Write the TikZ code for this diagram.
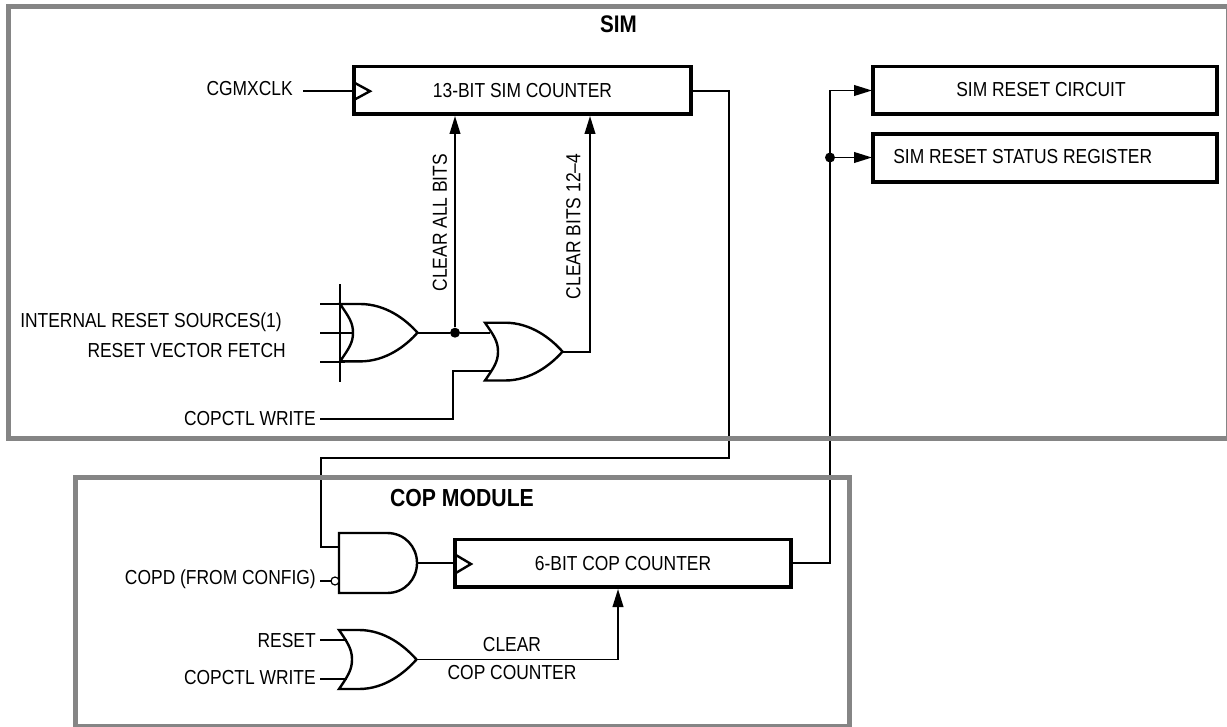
\documentclass[tikz,border=0pt]{standalone}
\usepackage{fontspec}
\setmainfont[FakeStretch=0.86]{Liberation Sans}
\usetikzlibrary{arrows.meta}
\definecolor{framegray}{HTML}{858585}
\tikzset{
  x=0.75pt,y=-0.75pt,
  frame/.style={draw=framegray,line width=3.6pt,outer sep=0pt,inner sep=0pt,anchor=north west},
  wire/.style={draw=black,line width=1.4pt},
  gate/.style={draw=black,line width=1.8pt,line join=miter},
  regbox/.style={draw=black,line width=2.4pt,outer sep=0pt,inner sep=0pt,anchor=north west},
  arr/.style={wire,-{Triangle[length=13.5pt,width=8pt]}},
  lbl/.style={font=\fontsize{15.2pt}{17pt}\selectfont,inner sep=0pt},
  lblr/.style={lbl,anchor=east},
  title/.style={font=\fontsize{18.5pt}{20pt}\selectfont\bfseries,inner sep=0pt},
  dot/.style={circle,fill=black,inner sep=0pt,minimum size=7.5pt},
}
\newcommand{\orgate}[4]{% name, left x, top y, bottom y
  \pgfmathsetmacro{\midy}{(#3+#4)/2}
  \coordinate (#1out) at (#2+77.5,\midy);
  \draw[gate,fill=white] (#2,#3) .. controls (#2+9,#3+13) and (#2+13,\midy-10) .. (#2+13,\midy)
    .. controls (#2+13,\midy+10) and (#2+9,#4-13) .. (#2,#4)
    -- (#2+20,#4) .. controls (#2+46,#4) and (#2+66,\midy+13) .. (#1out)
    .. controls (#2+66,\midy-13) and (#2+46,#3) .. (#2+20,#3) -- cycle;
}
\begin{document}
\begin{tikzpicture}
\useasboundingbox (0,0) rectangle (1227,727);
\fill[white] (0,0) rectangle (1227,727);
\node[title,font=\fontsize{18pt}{20pt}\selectfont\bfseries] (simt) at (618.5,24) {SIM};
\node[title] (copt) at (462,498) {COP MODULE};
% boxes
\node[regbox,minimum width=337*0.75pt,minimum height=47.5*0.75pt] (cnt) at (354,66.5) {};
\node[lbl] (cntt) at (522.5,91) {13-BIT SIM COUNTER};
\node[regbox,minimum width=336*0.75pt,minimum height=47.5*0.75pt] (cop6) at (455,539.5) {};
\node[lbl] (cop6t) at (623,564) {6-BIT COP COUNTER};
\node[regbox,minimum width=344*0.75pt,minimum height=47.5*0.75pt] (rc) at (873,66.5) {};
\node[lbl] (rct) at (1041,90) {SIM RESET CIRCUIT};
\node[regbox,minimum width=344*0.75pt,minimum height=48*0.75pt] (rs) at (873,134) {};
\node[lbl,anchor=west] (rst) at (893,157) {SIM RESET STATUS REGISTER};
% clock marks
\draw[gate] (cnt.north west)++(0,16) -- ++(16,8.7) -- ++(-16,8.7);
\draw[gate] (cop6.north west)++(0,15) -- ++(16,9.5) -- ++(-16,9.5);
% labels
\node[lblr] (cg) at (293,89) {CGMXCLK};
\node[lblr] (irs) at (282,322) {INTERNAL RESET SOURCES(1)};
\node[lblr] (rvf) at (286,351) {RESET VECTOR FETCH};
\node[lblr] (cw1) at (316,419) {COPCTL WRITE};
\node[lblr] (cd) at (316,579) {COPD (FROM CONFIG)};
\node[lblr] (rs2) at (316,641) {RESET};
\node[lblr] (cw2) at (316,678) {COPCTL WRITE};
\node[lbl] (cl) at (512,645) {CLEAR};
\node[lbl] (cc) at (512,673) {COP COUNTER};
\node[lbl,rotate=90] (cab) at (440,222.7) {CLEAR ALL BITS};
\node[lbl,rotate=90] (cb) at (573.5,226.5) {CLEAR BITS 12--4};
% pins
\coordinate (clkin) at (303,91);
\coordinate (cntin) at (354,91);
\coordinate (copin) at (455,563);
\coordinate (rcin) at (872,90.5);
\coordinate (rsin) at (872,157.5);
\coordinate (cw1w) at (320,418.7);
% gates
\draw[wire] (320,304) -- (345,304) (320,362) -- (345,362) (320,332.7) -- (352,332.7);
\draw[wire] (340,284) -- (340,382);
\orgate{a}{340}{304}{361.4}
\orgate{b}{485}{322.7}{380.5}
\orgate{c}{339}{630}{689}
\draw[wire] (320,640) -- (347,640) (320,679) -- (347,679);
\draw[gate,fill=white] (339,533) -- (387,533) .. controls (405,533) and (417,547) .. (417,563) coordinate (andout)
  .. controls (417,579) and (405,593) .. (387,593) -- (339,593) -- cycle;
\coordinate (andt) at (339,547);
\draw[wire] (320,581) -- (331,581);
\node[circle,draw=black,line width=0.9pt,fill=white,inner sep=0pt,minimum size=6pt] (bub) at (335,581) {};
% wires
\draw[wire] (clkin) -- (cntin);
\node[dot] (d1) at (455,332.7) {};
\draw[wire] (aout) -- (d1) -- (490,332.7);
\draw[arr] (d1) -- (455,116);
\draw[wire] (cw1w) -| (453,370.7) -- (492,370.7);
\draw[arr] (bout) -| (590,116);
\draw[wire] (691,91) -| (729,457.7) -| (321,547) -- (andt);
\draw[wire] (andout) -- (copin);
\draw[arr] (cout) -| (618,589);
\node[dot] (d2) at (830,157.5) {};
\draw[arr] (791,563) -| (830,90.5) -- (rcin);
\draw[arr] (d2) -- (rsin);
% frames on top of the wires
\node[frame,minimum width=1220*0.75pt,minimum height=432.2*0.75pt] (sim) at (8.5,6.3) {};
\node[frame,minimum width=774*0.75pt,minimum height=249*0.75pt] (cop) at (75.5,477.5) {};
\end{tikzpicture}
\end{document}
